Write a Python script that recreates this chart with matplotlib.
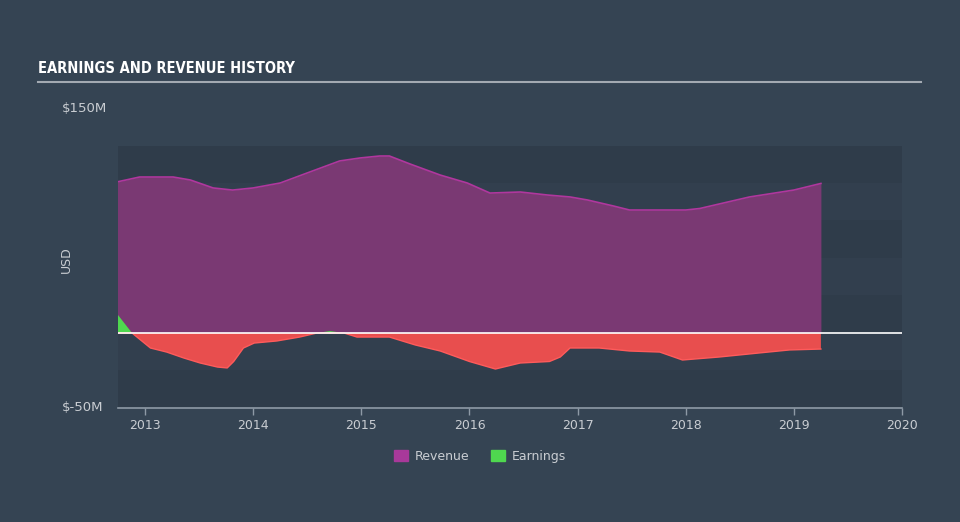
import numpy as np
import matplotlib
matplotlib.use("Agg")
import matplotlib.pyplot as plt
from matplotlib.patches import Patch

# 数据 (单位: 百万美元)
rev_x = [2012.74, 2012.95, 2013.26, 2013.42, 2013.63, 2013.81, 2014.0, 2014.25, 2014.5,
         2014.8, 2014.99, 2015.17, 2015.26, 2015.45, 2015.73, 2015.98, 2016.19, 2016.47,
         2016.72, 2016.93, 2017.09, 2017.33, 2017.48, 2018.0, 2018.13, 2018.59, 2019.0, 2019.25]
revenue = [100.7, 104, 104, 102, 96.7, 95.3, 96.7, 100, 106.7,
           114.7, 116.7, 118, 118, 112.7, 105.3, 100, 93.3, 94,
           92, 90.7, 88.7, 84.7, 82, 82, 83, 90.7, 95.3, 99.7]

earn_x = [2012.75, 2012.88, 2013.05, 2013.2, 2013.36, 2013.51, 2013.67, 2013.76, 2013.82,
          2013.91, 2014.01, 2014.22, 2014.43, 2014.59, 2014.71, 2014.84, 2014.96, 2015.26,
          2015.5, 2015.73, 2016.0, 2016.24, 2016.47, 2016.74, 2016.84, 2016.93, 2017.2,
          2017.48, 2017.76, 2017.97, 2018.31, 2018.68, 2018.96, 2019.25]
earnings = [12, 0, -10, -12.7, -16.7, -20, -22.7, -23.3, -19,
            -10, -6.7, -5.3, -2.7, 0, 1.3, 0, -2.7, -2.7,
            -8, -12, -19, -24, -20, -19, -16, -10, -10,
            -12, -12.7, -18, -16, -13.3, -11.3, -10.7]

years = [2013, 2014, 2015, 2016, 2017, 2018, 2019, 2020]

bg = "#354453"
band_dark = "#2f3c4a"
band_light = "#323f4e"
txt = "#c9cdd2"

plt.rcParams['font.family'] = ['DejaVu Sans']
fig = plt.figure(figsize=(9.6, 5.22), dpi=100, facecolor=bg)
ax = fig.add_axes([0.1229, 0.2184, 0.8167, 0.5747])
ax.set_facecolor(bg)
ax.set_xlim(2012.75, 2020.0)
ax.set_ylim(-50, 150)

# 背景条纹
for i, lo in enumerate(range(-50, 125, 25)):
    c = band_dark if i % 2 == 0 else band_light
    ax.axhspan(lo, lo + 25, color=c, lw=0, zorder=0)

ax.fill_between(rev_x, 0, revenue, color="#7a3973", lw=0, zorder=2)
ax.plot(rev_x, revenue, color="#b0379e", lw=1.2, zorder=3)

ex = np.array(earn_x)
ey = np.array(earnings)
ax.fill_between(ex, 0, ey, where=ey >= 0, interpolate=True, color="#4fd84f", lw=0, zorder=4)
ax.fill_between(ex, 0, ey, where=ey <= 0, interpolate=True, color="#e84e4e", lw=0, zorder=4)
ax.plot(ex, np.minimum(ey, 0), color="#ff5b5b", lw=1.0, zorder=5)
ax.axhline(0, color="white", lw=1.2, zorder=6)

for s in ["top", "right", "left"]:
    ax.spines[s].set_visible(False)
ax.spines["bottom"].set_color("#8e9aa6")
ax.spines["bottom"].set_linewidth(1.2)
ax.set_xticks(years)
ax.set_xticklabels([str(y) for y in years])
ax.set_yticks([])
ax.tick_params(axis='x', colors="#8e9aa6", length=5, width=1, labelcolor=txt, labelsize=9, pad=3)

fig.text(0.1229 - 0.058, 0.7931, "$150M", color=txt, fontsize=9.5, ha="left", va="center")
fig.text(0.1229 - 0.058, 0.2184, "$-50M", color=txt, fontsize=9.5, ha="left", va="center")
fig.text(0.069, 0.502, "USD", color=txt, fontsize=9, rotation=90, ha="center", va="center")

fig.text(0.040, 0.868, "EARNINGS AND REVENUE HISTORY", color="white", fontsize=10.5,
         fontweight="bold", fontstretch="condensed", ha="left", va="center")
fig.add_artist(plt.Line2D([0.040, 0.959], [0.843, 0.843], color="#a3aab2", lw=1.5))

handles = [Patch(color="#a8399a", label="Revenue"), Patch(color="#4fd84f", label="Earnings")]
fig.legend(handles=handles, loc="center", bbox_to_anchor=(0.5, 0.126), ncol=2, frameon=False,
           fontsize=9, labelcolor=txt, handlelength=1.1, handleheight=1.0, columnspacing=1.8,
           handletextpad=0.5)

fig.savefig("out.png", dpi=100, facecolor=bg)
